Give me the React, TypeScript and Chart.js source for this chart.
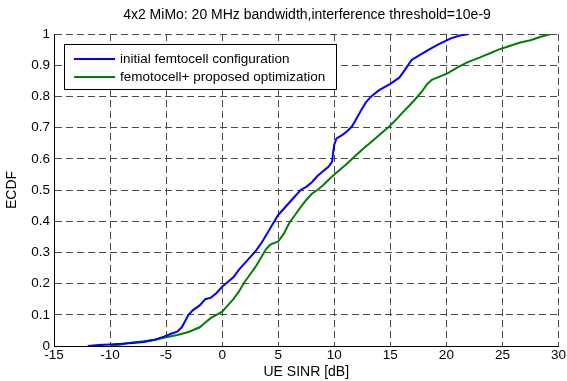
import React, { useEffect, useRef } from "react";
import { Chart, registerables } from "chart.js";

Chart.register(...registerables);

const TITLE = "4x2 MiMo: 20 MHz bandwidth,interference threshold=10e-9";
const X_LABEL = "UE SINR [dB]";
const Y_LABEL = "ECDF";
const SERIES_NAMES = ["initial femtocell configuration", "femotocell+ proposed optimization"];
const SERIES_COLORS = ["#0000ff", "#008000"];

const initialX = [-12.0, -11.0, -10.0, -9.0, -8.0, -7.0, -6.0, -5.2, -4.5, -4.0, -3.6, -3.3, -3.0, -2.6, -2.0, -1.5, -1.0, -0.5, 0.0, 0.5, 1.0, 1.5, 2.0, 2.5, 3.0, 3.5, 4.0, 4.5, 5.0, 5.5, 6.0, 6.5, 7.0, 7.5, 8.0, 8.5, 9.0, 9.5, 9.8, 9.9, 10.0, 10.2, 10.7, 11.2, 11.6, 12.0, 12.4, 12.8, 13.3, 14.0, 15.0, 15.8, 16.3, 16.9, 17.5, 18.4, 19.2, 20.4, 21.2, 22.0];
const initialY = [0.000, 0.003, 0.005, 0.007, 0.010, 0.013, 0.020, 0.030, 0.040, 0.046, 0.060, 0.080, 0.100, 0.115, 0.130, 0.150, 0.155, 0.170, 0.190, 0.205, 0.220, 0.245, 0.265, 0.285, 0.305, 0.330, 0.360, 0.390, 0.420, 0.440, 0.460, 0.480, 0.500, 0.510, 0.525, 0.545, 0.560, 0.575, 0.590, 0.620, 0.645, 0.665, 0.676, 0.690, 0.705, 0.730, 0.756, 0.780, 0.800, 0.820, 0.840, 0.860, 0.885, 0.917, 0.930, 0.949, 0.965, 0.986, 0.995, 1.000];

const optimizedX = [-10.0, -9.0, -8.5, -7.0, -6.0, -5.0, -4.0, -3.0, -2.0, -1.5, -1.0, -0.5, 0.0, 0.5, 1.0, 1.5, 2.0, 2.5, 3.0, 3.5, 3.9, 4.3, 5.0, 5.5, 6.0, 6.5, 7.0, 7.5, 8.0, 8.5, 9.0, 9.8, 10.5, 11.0, 11.6, 12.5, 13.5, 14.3, 14.8, 15.5, 16.0, 16.6, 17.2, 17.8, 18.3, 18.7, 19.5, 20.1, 21.0, 21.9, 23.0, 24.0, 24.6, 25.5, 26.5, 27.5, 28.5, 29.3];
const optimizedY = [0.000, 0.005, 0.009, 0.015, 0.020, 0.028, 0.035, 0.045, 0.060, 0.075, 0.090, 0.100, 0.110, 0.130, 0.150, 0.175, 0.205, 0.230, 0.255, 0.285, 0.310, 0.325, 0.335, 0.360, 0.395, 0.420, 0.445, 0.468, 0.488, 0.500, 0.515, 0.543, 0.565, 0.580, 0.600, 0.630, 0.660, 0.685, 0.700, 0.725, 0.745, 0.767, 0.790, 0.815, 0.840, 0.853, 0.865, 0.874, 0.893, 0.910, 0.925, 0.940, 0.949, 0.960, 0.972, 0.980, 0.992, 1.000];

const X_MIN = -15, X_MAX = 30, X_STEP = 5;
const Y_MIN = 0, Y_MAX = 1, Y_STEP = 0.1;

const FONT = "'Liberation Sans', Arial, sans-serif";

const toPoints = (xs: number[], ys: number[]) => xs.map((x, i) => ({ x, y: ys[i] }));

const overlayPlugin = {
  id: "overlay",
  afterDraw(chart: any) {
    const ctx = chart.ctx as CanvasRenderingContext2D;
    const area = chart.chartArea;
    ctx.save();
    // title
    ctx.fillStyle = "#000";
    ctx.font = `14px ${FONT}`;
    ctx.textAlign = "center";
    ctx.textBaseline = "middle";
    ctx.fillText(TITLE, 307, 15);
    // legend
    const bx = 64, by = 44, bw = 272, bh = 45;
    ctx.fillStyle = "#fff";
    ctx.fillRect(bx, by, bw, bh);
    ctx.strokeStyle = "#000";
    ctx.lineWidth = 1;
    ctx.strokeRect(bx + 0.5, by + 0.5, bw, bh);
    ctx.font = `13.5px ${FONT}`;
    ctx.textAlign = "left";
    const rows = [59, 77];
    rows.forEach((ry, i) => {
      ctx.strokeStyle = SERIES_COLORS[i];
      ctx.lineWidth = 2;
      ctx.beginPath();
      ctx.moveTo(74, ry);
      ctx.lineTo(115, ry);
      ctx.stroke();
      ctx.fillStyle = "#000";
      ctx.fillText(SERIES_NAMES[i], 120, ry);
    });
    ctx.restore();
  },
};

export default function App() {
  const ref = useRef<HTMLCanvasElement>(null);
  useEffect(() => {
    if (!ref.current) return;
    const gridCommon = {
      color: "#4a4a4a",
      lineWidth: 1,
      drawTicks: false,
    };
    const chart = new Chart(ref.current, {
      type: "line",
      data: {
        datasets: [
          {
            label: SERIES_NAMES[0],
            data: toPoints(initialX, initialY),
            borderColor: SERIES_COLORS[0],
            backgroundColor: SERIES_COLORS[0],
            borderWidth: 2,
            pointRadius: 0,
            tension: 0,
          },
          {
            label: SERIES_NAMES[1],
            data: toPoints(optimizedX, optimizedY),
            borderColor: SERIES_COLORS[1],
            backgroundColor: SERIES_COLORS[1],
            borderWidth: 2,
            pointRadius: 0,
            tension: 0,
          },
        ],
      },
      options: {
        animation: false,
        responsive: false,
        maintainAspectRatio: false,
        devicePixelRatio: 1,
        layout: { padding: { top: 34, right: 7, left: 0, bottom: 0 } },
        plugins: {
          legend: { display: false },
          title: { display: false },
          tooltip: { enabled: false },
        },
        scales: {
          x: {
            type: "linear",
            min: X_MIN,
            max: X_MAX,
            ticks: {
              stepSize: X_STEP,
              color: "#000",
              font: { family: FONT, size: 13.5 },
              padding: 1,
              maxRotation: 0,
              autoSkip: false,
            },
            grid: gridCommon,
            border: { display: true, color: "#000", width: 1, dash: [7, 4] },
            title: {
              display: true,
              text: X_LABEL,
              color: "#000",
              font: { family: FONT, size: 14 },
              padding: { top: 0, bottom: 0 },
            },
            afterFit: (s: any) => {
              s.height = 35;
            },
          },
          y: {
            type: "linear",
            min: Y_MIN,
            max: Y_MAX,
            ticks: {
              stepSize: Y_STEP,
              color: "#000",
              font: { family: FONT, size: 13.5 },
              padding: 4,
              autoSkip: false,
              callback: (v: any) => String(Math.round(Number(v) * 10) / 10),
            },
            grid: gridCommon,
            border: { display: true, color: "#000", width: 1, dash: [7, 4] },
            title: {
              display: true,
              text: Y_LABEL,
              color: "#000",
              font: { family: FONT, size: 14 },
              padding: { top: 4, bottom: 0 },
            },
            afterFit: (s: any) => {
              s.width = 54;
            },
          },
        },
      },
      plugins: [overlayPlugin],
    });
    return () => chart.destroy();
  }, []);
  return (
    <div style={{ position: "absolute", left: 0, top: 0, width: 567, height: 381, background: "#fff" }}>
      <canvas ref={ref} width={567} height={381} style={{ width: 567, height: 381 }} />
    </div>
  );
}
